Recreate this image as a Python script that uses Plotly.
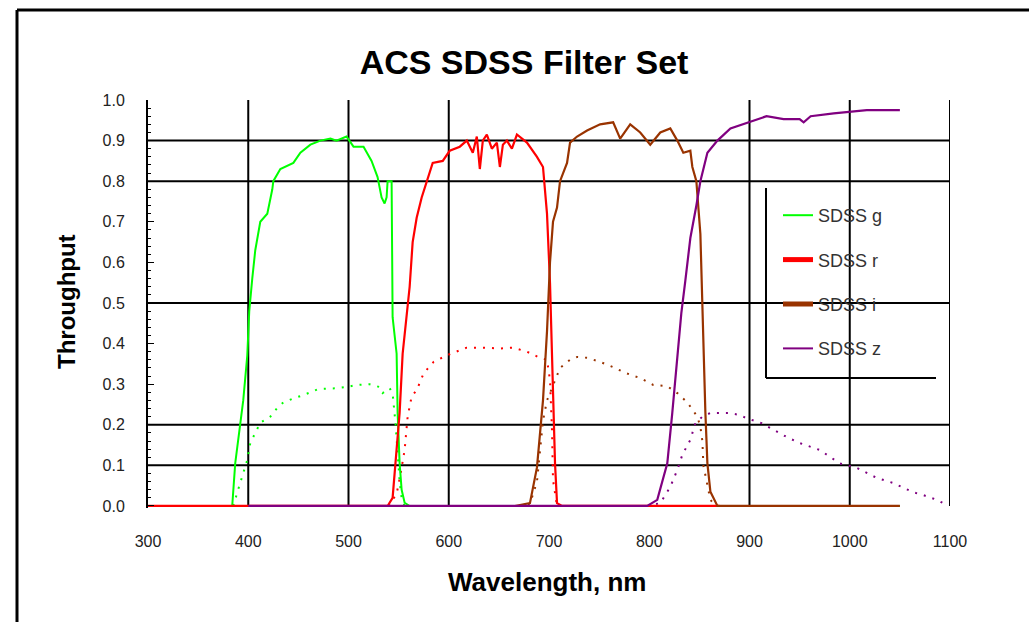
import plotly.graph_objects as go

# ---------------- data ----------------
series_names = ["SDSS g", "SDSS r", "SDSS i", "SDSS z"]
series_colors = ["#00FF00", "#FF0000", "#993300", "#800080"]

# filter-only throughput (solid curves)
g_wl = [380, 384, 387, 392, 395, 399, 401, 404, 407, 412, 419, 424, 425, 432, 445, 452, 462,
        472, 482, 488, 498, 505, 515, 523, 529, 533, 536, 538, 539, 543, 544, 548, 549, 551,
        553, 556, 561, 1050]
g_tp = [0, 0, 0.105, 0.21, 0.26, 0.37, 0.48, 0.56, 0.63, 0.70, 0.72, 0.78, 0.80, 0.83, 0.845,
        0.87, 0.89, 0.90, 0.905, 0.90, 0.91, 0.885, 0.885, 0.85, 0.81, 0.76, 0.745, 0.76, 0.80,
        0.80, 0.465, 0.375, 0.23, 0.105, 0.04, 0.008, 0, 0]

r_wl = [300, 539, 544, 548, 551, 554, 558, 561, 564, 568, 573, 578, 584, 594, 601, 611, 618,
        624, 628, 631, 634, 638, 643, 648, 651, 654, 658, 663, 668, 678, 688, 694, 698, 701,
        704, 706, 708, 713, 870]
r_tp = [0, 0, 0.02, 0.145, 0.23, 0.375, 0.475, 0.54, 0.65, 0.71, 0.76, 0.80, 0.845, 0.85,
        0.875, 0.885, 0.90, 0.87, 0.91, 0.83, 0.90, 0.915, 0.88, 0.895, 0.835, 0.89, 0.90,
        0.88, 0.915, 0.895, 0.86, 0.835, 0.72, 0.55, 0.31, 0.105, 0.007, 0, 0]

i_wl = [666, 681, 688, 694, 698, 701, 704, 708, 711, 718, 721, 728, 738, 751, 764, 771, 781,
        791, 801, 811, 821, 828, 834, 841, 843, 847, 851, 853, 854, 856, 858, 861, 868, 1050]
i_tp = [0, 0.007, 0.095, 0.26, 0.43, 0.60, 0.70, 0.735, 0.80, 0.845, 0.895, 0.91, 0.925,
        0.94, 0.945, 0.905, 0.94, 0.92, 0.89, 0.92, 0.93, 0.90, 0.87, 0.875, 0.835, 0.80,
        0.67, 0.50, 0.37, 0.23, 0.105, 0.035, 0, 0]

z_wl = [400, 798, 808, 818, 823, 826, 832, 836, 841, 847, 851, 858, 868, 881, 898, 917, 934,
        950, 954, 961, 984, 1000, 1017, 1050]
z_tp = [0, 0, 0.015, 0.105, 0.23, 0.31, 0.475, 0.555, 0.66, 0.74, 0.80, 0.87, 0.90, 0.93,
        0.945, 0.96, 0.953, 0.953, 0.945, 0.96, 0.967, 0.97, 0.975, 0.975]

# total system throughput (dotted curves)
gd_wl = [385, 389, 392, 399, 402, 407, 412, 422, 430, 435, 445, 455, 470, 488, 498, 508, 521,
         531, 534, 541, 544, 547, 549, 551, 553, 556]
gd_tp = [0, 0.03, 0.057, 0.113, 0.155, 0.18, 0.205, 0.22, 0.245, 0.255, 0.265, 0.273, 0.288,
         0.29, 0.293, 0.298, 0.30, 0.293, 0.278, 0.29, 0.278, 0.2, 0.12, 0.06, 0.02, 0]

rd_wl = [540, 548, 552, 556, 559, 563, 568, 575, 585, 599, 618, 634, 651, 664, 678, 691, 698,
         701, 703, 704, 708]
rd_tp = [0, 0.03, 0.08, 0.138, 0.22, 0.27, 0.285, 0.327, 0.355, 0.372, 0.39, 0.39, 0.388,
         0.39, 0.38, 0.365, 0.36, 0.31, 0.187, 0.064, 0]

id_wl = [670, 681, 688, 691, 694, 698, 706, 711, 721, 728, 738, 751, 764, 777, 791, 804, 818,
         828, 838, 848, 851, 853, 854, 858, 861, 866]
id_tp = [0, 0.005, 0.06, 0.145, 0.21, 0.26, 0.31, 0.34, 0.36, 0.367, 0.365, 0.355, 0.342,
         0.327, 0.315, 0.298, 0.295, 0.278, 0.255, 0.22, 0.195, 0.16, 0.1, 0.05, 0.015, 0]

zd_wl = [798, 811, 821, 828, 833, 841, 846, 853, 861, 879, 891, 896, 912, 924, 937, 950, 970,
         990, 1007, 1027, 1043, 1063, 1073, 1087, 1097]
zd_tp = [0, 0.007, 0.047, 0.089, 0.126, 0.163, 0.204, 0.22, 0.229, 0.229, 0.224, 0.217, 0.204,
         0.187, 0.17, 0.155, 0.138, 0.105, 0.094, 0.069, 0.057, 0.034, 0.027, 0.015, 0.002]

x_ticks = [300, 400, 500, 600, 700, 800, 900, 1000, 1100]
y_ticks = [0.0, 0.1, 0.2, 0.3, 0.4, 0.5, 0.6, 0.7, 0.8, 0.9, 1.0]
grid_x = [400, 500, 600, 900, 1000, 1100]
grid_y = [0.1, 0.2, 0.5, 0.8, 0.9]

solid = [(g_wl, g_tp), (r_wl, r_tp), (i_wl, i_tp), (z_wl, z_tp)]
dotted = [(gd_wl, gd_tp), (rd_wl, rd_tp), (id_wl, id_tp), (zd_wl, zd_tp)]
solid_widths = [2.0, 2.2, 2.2, 2.2]
legend_widths = [2, 5, 5, 2]

FONT = "Liberation Sans, Arial, sans-serif"

fig = go.Figure()

for (wl, tp), col in zip(dotted, series_colors):
    fig.add_trace(go.Scatter(x=wl, y=tp, mode="lines", showlegend=False, hoverinfo="skip",
                             line=dict(color=col, width=2, dash="2px,7px")))

for idx, ((wl, tp), col, name) in enumerate(zip(solid, series_colors, series_names)):
    fig.add_trace(go.Scatter(x=wl, y=tp, mode="lines", name=name, legendgroup=name,
                             showlegend=False,
                             line=dict(color=col, width=solid_widths[idx])))

# legend samples (same series, drawn with the legend's line weights)
for col, name, lw in zip(series_colors, series_names, legend_widths):
    fig.add_trace(go.Scatter(x=[None], y=[None], mode="lines", name=name, legendgroup=name,
                             line=dict(color=col, width=lw)))

# ---------------- layout ----------------
W, H = 1029, 622
Y_MIN = -0.005            # tiny pad so the zero-level lines are not clipped
L, R, T = 148, 79, 100
B = 116 - 2               # plot bottom sits 2px below the y=0 level
pw, ph = W - L - R, H - T - B


def px2paper_x(px):
    return (px - L) / pw


def px2paper_y(py):
    return (H - B - py) / ph


shapes = []
for gx in grid_x:
    shapes.append(dict(type="line", xref="x", yref="y", x0=gx, x1=gx, y0=0, y1=1,
                       line=dict(color="black", width=2), layer="below"))
for gy in grid_y:
    shapes.append(dict(type="line", xref="x", yref="y", x0=300, x1=1100, y0=gy, y1=gy,
                       line=dict(color="black", width=2), layer="below"))

# legend box (white, with left & bottom edge)
lx0, lx1 = px2paper_x(766), px2paper_x(936)
ly0, ly1 = px2paper_y(378), px2paper_y(188)
shapes.append(dict(type="rect", xref="paper", yref="paper", x0=lx0, x1=lx1, y0=ly0, y1=ly1,
                   fillcolor="white", line=dict(width=0), layer="below"))
shapes.append(dict(type="line", xref="paper", yref="paper", x0=lx0, x1=lx0, y0=ly0, y1=ly1,
                   line=dict(color="black", width=2), layer="below"))
shapes.append(dict(type="line", xref="paper", yref="paper", x0=lx0, x1=lx1, y0=ly0, y1=ly0,
                   line=dict(color="black", width=2), layer="below"))

# outer frame (top and left edges visible)
fx0, fy1 = px2paper_x(17), px2paper_y(10)
shapes.append(dict(type="line", xref="paper", yref="paper", x0=fx0, x1=px2paper_x(1040),
                   y0=fy1, y1=fy1, line=dict(color="black", width=3)))
shapes.append(dict(type="line", xref="paper", yref="paper", x0=fx0, x1=fx0,
                   y0=px2paper_y(640), y1=fy1, line=dict(color="black", width=3)))

annotations = [
    dict(text="<b>Wavelength, nm</b>", xref="paper", yref="paper",
         x=px2paper_x(547), y=px2paper_y(582), showarrow=False,
         font=dict(family=FONT, size=26, color="black"), xanchor="center", yanchor="middle"),
    dict(text="<b>Throughput</b>", xref="paper", yref="paper",
         x=px2paper_x(66), y=px2paper_y(302), showarrow=False, textangle=-90,
         font=dict(family=FONT, size=24, color="black"), xanchor="center", yanchor="middle"),
]

fig.update_layout(
    width=W, height=H,
    margin=dict(l=L, r=R, t=T, b=B, pad=0),
    paper_bgcolor="white", plot_bgcolor="white",
    title=dict(text="<b>ACS SDSS Filter Set</b>", x=524 / W, xref="container",
               y=1 - 62 / H, yref="container", xanchor="center", yanchor="middle",
               font=dict(family=FONT, size=34, color="black")),
    showlegend=True,
    legend=dict(x=px2paper_x(778), y=px2paper_y(197), xanchor="left", yanchor="top",
                bgcolor="rgba(0,0,0,0)", borderwidth=0,
                font=dict(family=FONT, size=18, color="#333333"),
                traceorder="grouped", tracegroupgap=18, itemwidth=30),
    shapes=shapes,
    annotations=annotations,
    xaxis=dict(range=[300, 1100], tickvals=x_ticks, ticktext=[str(v) for v in x_ticks],
               showgrid=False, zeroline=False, showline=False, ticks="",
               ticklabelstandoff=22,
               tickfont=dict(family=FONT, size=16, color="#222222")),
    yaxis=dict(range=[Y_MIN, 1], tickvals=y_ticks, ticktext=[f"{v:.1f}" for v in y_ticks],
               showgrid=False, zeroline=False, showline=True, linecolor="black",
               linewidth=2, ticks="inside", ticklen=6, tickcolor="black", tickwidth=1,
               minor=dict(dtick=0.02, ticks="inside", ticklen=3, tickcolor="black",
                          showgrid=False),
               ticklabelstandoff=18,
               tickfont=dict(family=FONT, size=16, color="#222222")),
    hovermode=False,
)

fig.write_html("out.html", config={"displayModeBar": False},
               post_script="document.body.style.margin='0px';")
